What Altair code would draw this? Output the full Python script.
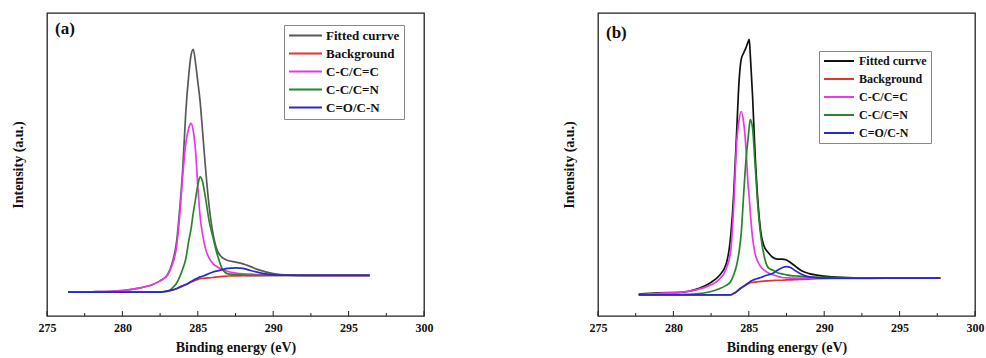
import altair as alt
import pandas as pd

series_names = ["Fitted currve", "Background", "C-C/C=C", "C-C/C=N", "C=O/C-N"]
major_ticks = [275, 280, 285, 290, 295, 300]
minor_ticks = [277.5, 282.5, 287.5, 292.5, 297.5]

# ---- panel (a) ----
energy_a = [276.4, 278.0, 280.0, 281.0, 282.0, 282.5, 283.0, 283.3, 283.6, 283.8,
            284.0, 284.2, 284.4, 284.55, 284.7, 284.85, 285.0, 285.15, 285.3, 285.5,
            285.75, 286.0, 286.3, 286.7, 287.0, 287.5, 288.0, 288.5, 289.0, 290.0,
            291.0, 293.0, 296.4]
fitted_a = [7.9, 8.0, 8.4, 9.1, 10.4, 11.6, 13.7, 17.5, 24.8, 35.3,
            48.5, 67.0, 79.5, 86.0, 88.0, 83.5, 77.3, 71.0, 62.0, 49.5,
            36.3, 27.4, 21.5, 19.0, 18.3, 17.8, 17.2, 16.3, 15.3, 14.0,
            13.5, 13.4, 13.4]
background_a = [7.9, 7.9, 7.9, 7.9, 7.9, 7.9, 8.2, 8.5, 9.0, 9.4,
                9.9, 10.3, 10.8, 11.2, 11.5, 11.8, 12.1, 12.3, 12.4, 12.5,
                12.6, 12.7, 12.9, 13.1, 13.2, 13.25, 13.3, 13.3, 13.35, 13.4,
                13.4, 13.4, 13.4]
cc_a = [7.9, 8.0, 8.4, 9.1, 10.4, 11.6, 13.5, 16.8, 23.1, 33.0,
        46.2, 56.8, 62.0, 63.6, 61.1, 54.5, 42.9, 33.0, 27.4, 22.4,
        19.1, 17.3, 16.2, 15.2, 14.7, 14.2, 13.9, 13.8, 13.6, 13.5,
        13.5, 13.4, 13.4]
ccn_a = [7.9, 7.9, 7.9, 7.9, 7.9, 7.9, 8.1, 9.2, 10.9, 12.9,
         15.5, 18.8, 24.8, 28.7, 34.0, 38.6, 43.2, 45.9, 44.6, 39.3,
         31.4, 26.1, 20.1, 14.9, 13.9, 13.7, 13.5, 13.4, 13.4, 13.4,
         13.4, 13.4, 13.4]
con_a = [7.9, 7.9, 7.9, 7.9, 7.9, 7.9, 8.3, 8.6, 9.1, 9.6,
         10.0, 10.4, 10.9, 11.4, 11.8, 12.2, 12.5, 12.9, 13.1, 13.5,
         14.0, 14.5, 14.9, 15.4, 15.7, 15.9, 15.7, 15.0, 14.4, 13.6,
         13.5, 13.4, 13.4]

# ---- panel (b) ----
energy_b = [277.7, 279.0, 280.5, 281.5, 282.5, 283.0, 283.5, 283.8, 284.0, 284.2,
            284.35, 284.5, 284.65, 284.8, 284.95, 285.03, 285.1, 285.25, 285.4, 285.6,
            285.8, 286.0, 286.3, 286.6, 286.9, 287.2, 287.5, 287.8, 288.1, 288.5,
            289.0, 289.5, 290.5, 292.0, 294.0, 297.7]
fitted_b = [7.2, 7.6, 7.8, 8.8, 11.1, 13.1, 17.2, 26.5, 40.3, 61.3,
            77.2, 84.8, 86.7, 88.4, 90.4, 91.3, 86.1, 72.6, 55.3, 38.1,
            27.5, 23.2, 20.9, 19.3, 18.8, 18.8, 18.5, 17.5, 16.4, 14.9,
            14.0, 13.5, 12.9, 12.6, 12.5, 12.5]
background_b = [7.0, 7.0, 7.0, 7.0, 7.0, 7.0, 7.0, 7.0, 7.4, 8.0,
                8.6, 9.2, 9.7, 10.2, 10.6, 10.8, 11.0, 11.1, 11.2, 11.3,
                11.4, 11.5, 11.6, 11.7, 11.8, 11.8, 11.9, 11.9, 12.0, 12.1,
                12.2, 12.3, 12.4, 12.4, 12.5, 12.5]
cc_b = [7.1, 7.5, 7.9, 8.6, 10.3, 11.9, 15.6, 21.5, 36.4, 57.6,
        64.6, 67.5, 64.2, 56.3, 43.4, 39.1, 34.1, 25.8, 20.9, 17.9,
        16.2, 15.2, 14.2, 13.6, 13.1, 12.7, 12.6, 12.5, 12.5, 12.5,
        12.5, 12.5, 12.5, 12.5, 12.5, 12.5]
ccn_b = [7.0, 7.0, 7.1, 7.3, 8.1, 8.9, 10.1, 11.4, 13.6, 16.9,
         21.0, 27.5, 39.4, 50.7, 58.5, 62.5, 64.8, 61.9, 51.3, 36.4,
         26.2, 20.2, 15.9, 15.1, 14.3, 13.9, 13.6, 13.3, 13.2, 13.1,
         12.9, 12.8, 12.7, 12.6, 12.5, 12.5]
con_b = [7.0, 7.0, 7.0, 7.0, 7.0, 7.0, 7.0, 7.0, 7.5, 8.1,
         8.8, 9.3, 9.8, 10.3, 10.9, 11.1, 11.4, 11.8, 12.1, 12.4,
         12.7, 13.1, 13.6, 14.1, 15.1, 15.9, 16.3, 15.9, 14.9, 13.8,
         12.9, 12.6, 12.5, 12.5, 12.5, 12.5]

colors_a = ["#595959", "#e3342c", "#e838e8", "#27852a", "#2a2ac8"]
colors_b = ["#111111", "#e3342c", "#e838e8", "#27852a", "#2a2ac8"]

PLOT_W = 377
PLOT_H = 303
SERIF = "Liberation Serif"
# legend line: a horizontal stroke starting at the left edge of the symbol cell
LEGEND_LINE = "M-1,0H5"


def long_frame(energy, columns):
    rows = []
    for name, values in zip(series_names, columns):
        for e, v in zip(energy, values):
            rows.append({"energy": e, "intensity": v, "series": name})
    return pd.DataFrame(rows)


def panel(df, colors, tag, tag_y, legend_x, legend_y, legend_font, row_pad,
          symbol_cell, label_offset):
    x_enc = alt.X(
        "energy:Q",
        scale=alt.Scale(domain=[275, 300], nice=False, zero=False),
        axis=alt.Axis(
            values=major_ticks, ticks=False, domain=False, grid=False,
            labelFont=SERIF, labelFontWeight="bold", labelFontSize=12,
            labelColor="#111", labelPadding=6, labelFlush=False,
            title="Binding energy (eV)", titleFont=SERIF,
            titleFontWeight="bold", titleFontSize=14, titleColor="#111",
            titlePadding=7,
        ),
    )
    y_enc = alt.Y(
        "intensity:Q",
        scale=alt.Scale(domain=[0, 100], nice=False),
        axis=alt.Axis(
            labels=False, ticks=False, domain=False, grid=False,
            title="Intensity (a.u.)", titleFont=SERIF, titleFontWeight="bold",
            titleFontSize=14, titleColor="#111", titlePadding=22,
        ),
    )
    lines = alt.Chart(df).mark_line(strokeWidth=1.7, interpolate="monotone").encode(
        x=x_enc,
        y=y_enc,
        color=alt.Color(
            "series:N",
            scale=alt.Scale(domain=series_names, range=colors),
            legend=alt.Legend(
                title=None, orient="none", legendX=legend_x, legendY=legend_y,
                direction="vertical", symbolType=LEGEND_LINE,
                symbolSize=symbol_cell * symbol_cell, symbolStrokeWidth=2,
                labelFont=SERIF, labelFontWeight="bold",
                labelFontSize=legend_font, labelColor="#111",
                strokeColor="#888", fillColor="white", padding=4,
                rowPadding=row_pad, labelOffset=label_offset,
            ),
        ),
        detail="series:N",
    )
    major = alt.Chart(pd.DataFrame({"energy": major_ticks})).mark_rule(
        color="#222", strokeWidth=1
    ).encode(x="energy:Q", y=alt.value(PLOT_H), y2=alt.value(PLOT_H - 5))
    minor = alt.Chart(pd.DataFrame({"energy": minor_ticks})).mark_rule(
        color="#222", strokeWidth=1
    ).encode(x="energy:Q", y=alt.value(PLOT_H), y2=alt.value(PLOT_H - 3))
    label = alt.Chart(pd.DataFrame({"tag": [tag]})).mark_text(
        align="left", baseline="middle", font=SERIF, fontWeight="bold",
        fontSize=17, color="#111"
    ).encode(text="tag:N", x=alt.value(8), y=alt.value(tag_y))
    return alt.layer(lines, major, minor, label).properties(
        width=PLOT_W, height=PLOT_H
    )


panel_a = panel(long_frame(energy_a, [fitted_a, background_a, cc_a, ccn_a, con_a]),
                colors_a, "(a)", 16, 237, 12, 13, 4, 11, 25)
panel_b = panel(long_frame(energy_b, [fitted_b, background_b, cc_b, ccn_b, con_b]),
                colors_b, "(b)", 20, 221, 38, 12, 6, 10, 24)

chart = alt.hconcat(panel_a, panel_b, spacing=127).resolve_scale(
    color="independent"
).properties(
    padding={"left": 10, "top": 12, "right": 0, "bottom": 0},
    background="white",
).configure_view(stroke="#222", strokeWidth=1.3)

chart.save("out.html", embed_options={"renderer": "svg", "actions": False})
